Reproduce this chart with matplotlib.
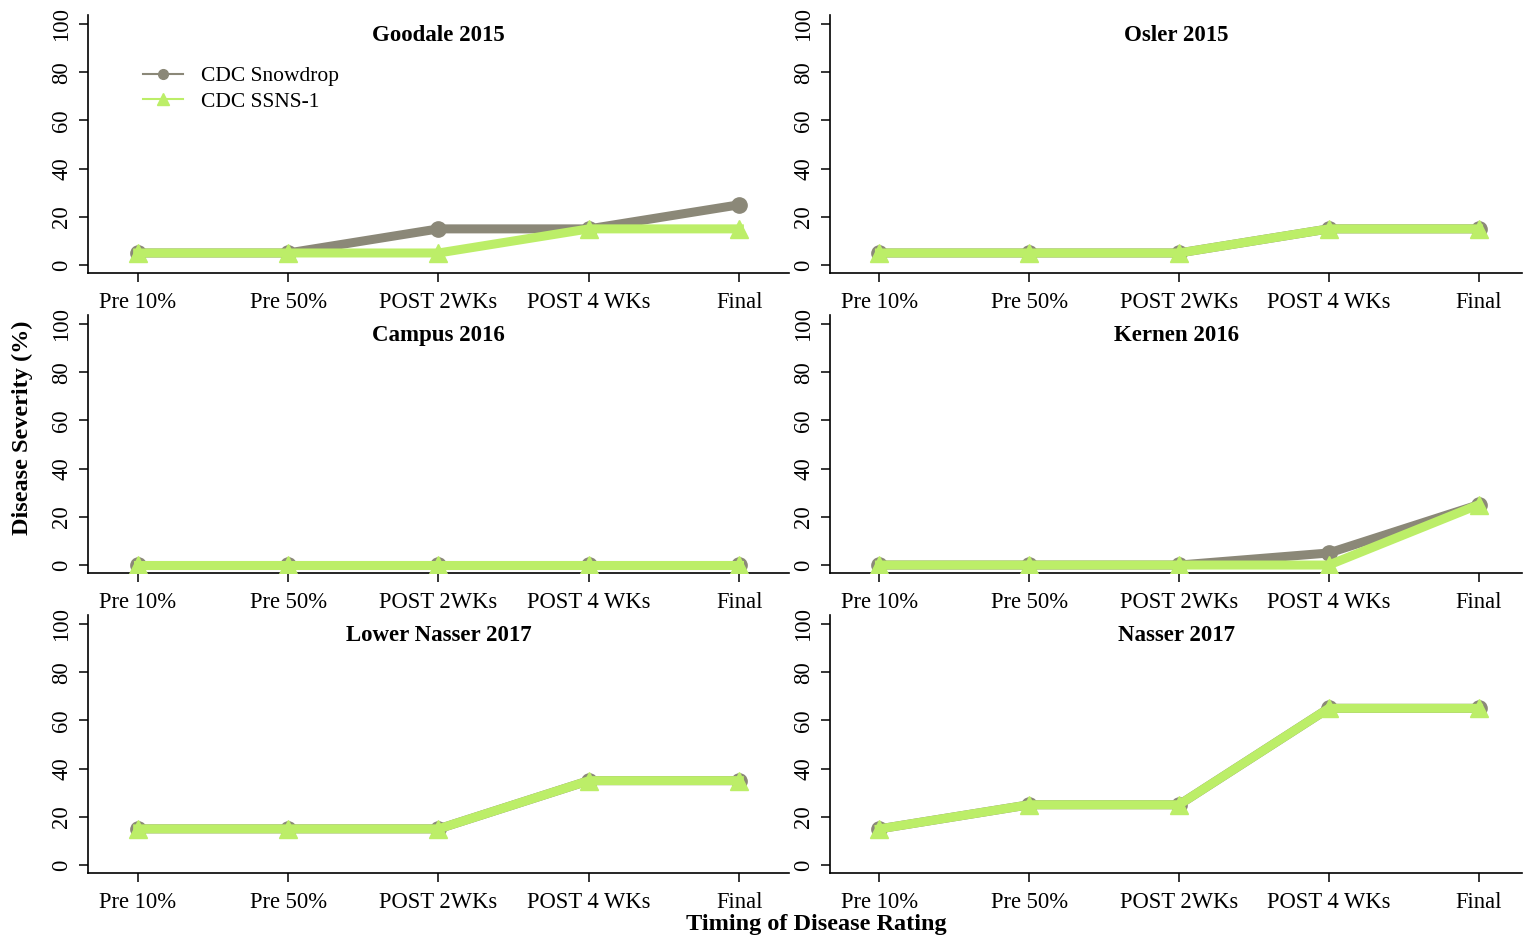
import matplotlib
matplotlib.use("Agg")
import matplotlib.pyplot as plt
from matplotlib.lines import Line2D

plt.rcParams['font.family'] = ['Liberation Serif', 'DejaVu Serif']

timings = ["Pre 10%", "Pre 50%", "POST 2WKs", "POST 4 WKs", "Final"]
sites = ["Goodale 2015", "Osler 2015", "Campus 2016",
         "Kernen 2016", "Lower Nasser 2017", "Nasser 2017"]
varieties = ["CDC Snowdrop", "CDC SSNS-1"]

snowdrop = [
    [5, 5, 15, 15, 25],
    [5, 5, 5, 15, 15],
    [0, 0, 0, 0, 0],
    [0, 0, 0, 5, 25],
    [15, 15, 15, 35, 35],
    [15, 25, 25, 65, 65],
]
ssns1 = [
    [5, 5, 5, 15, 15],
    [5, 5, 5, 15, 15],
    [0, 0, 0, 0, 0],
    [0, 0, 0, 0, 25],
    [15, 15, 15, 35, 35],
    [15, 25, 25, 65, 65],
]

col_snow = "#8B8878"
col_ssns = "#BCEE68"

W, H = 1524, 938
fig = plt.figure(figsize=(W / 100, H / 100), dpi=100)

lefts = [88, 830]
rights = [789, 1522]
tops = [15, 315, 615]
heights = 258

x = list(range(1, len(timings) + 1))

for i, site in enumerate(sites):
    r, c = divmod(i, 2)
    l, rr = lefts[c], rights[c]
    t = tops[r]
    ax = fig.add_axes([l / W, 1 - (t + heights) / H, (rr - l) / W, heights / H])
    ax.plot(x, snowdrop[i], color=col_snow, lw=6.5, marker="o", ms=11,
            solid_joinstyle="round", zorder=3)
    ax.plot(x, ssns1[i], color=col_ssns, lw=6.5, marker="^", ms=13,
            solid_joinstyle="round", zorder=4)
    ax.set_xlim(0.67, 5.33 if c == 0 else 5.29)
    ax.set_ylim(-3.3, 103.7)
    ax.set_xticks(x)
    ax.set_xticklabels(timings, fontsize=16.3)
    ax.set_yticks([0, 20, 40, 60, 80, 100])
    ax.set_yticklabels(["0", "20", "40", "60", "80", "100"], fontsize=16.3,
                       rotation=90, va="center")
    for s in ["top", "right"]:
        ax.spines[s].set_visible(False)
    for s in ["left", "bottom"]:
        ax.spines[s].set_linewidth(1.2)
    ax.tick_params(axis="both", direction="out", length=6.5, width=1.1)
    ax.tick_params(axis="x", pad=7)
    ax.tick_params(axis="y", pad=5)
    ax.text(0.5, 0.92, site, transform=ax.transAxes, ha="center", va="center",
            fontsize=16.5, fontweight="bold")
    ax.set_facecolor("none")
    if i == 0:
        handles = [
            Line2D([], [], color=col_snow, lw=1.5, marker="o", ms=7),
            Line2D([], [], color=col_ssns, lw=1.5, marker="^", ms=8),
        ]
        ax.legend(handles, varieties, loc="upper left",
                  bbox_to_anchor=(0.066, 0.835), frameon=False, fontsize=15.5,
                  handlelength=1.85, handletextpad=0.85, labelspacing=0.25,
                  borderaxespad=0)

fig.text(22 / W, 1 - 428 / H, "Disease Severity (%)", rotation=90,
         ha="center", va="center", fontsize=17.5, fontweight="bold")
fig.text(816 / W, 1 - 924 / H, "Timing of Disease Rating",
         ha="center", va="center", fontsize=17.5, fontweight="bold")

fig.savefig("out.png", dpi=100)
